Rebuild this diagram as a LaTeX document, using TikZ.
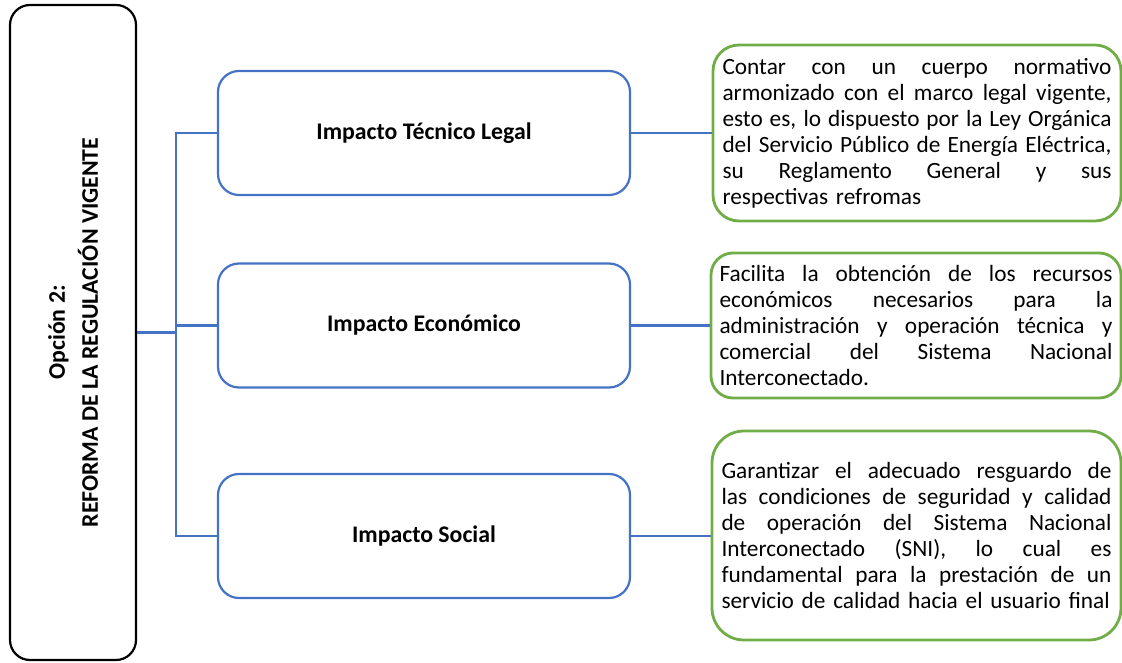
\documentclass[tikz,border=0pt]{standalone}
\usepackage{fontspec}
\setmainfont{Carlito}
\definecolor{blueC}{HTML}{4472C4}
\definecolor{greenC}{HTML}{70AD47}
\newlength\jw
\newcommand{\justline}[1]{\hbox to \jw{\spaceskip=0.22em plus 1fil\relax #1}}
\newcommand{\lastline}[1]{\hbox{#1}}
\begin{document}
\begin{tikzpicture}[x=1pt,y=-1pt,
  lbox/.style={draw=black, line width=2.2pt, rounded corners=20pt, minimum width=126pt, minimum height=655pt, inner sep=0pt},
  bbox/.style={draw=blueC, line width=2.2pt, rounded corners=21pt, minimum width=412pt, minimum height=124pt, inner sep=0pt, font=\fontsize{23.8}{26}\selectfont\bfseries},
  gbox/.style={draw=greenC, line width=2.8pt, align=left, inner xsep=9.5pt, inner ysep=0pt, font=\fontsize{23.3}{26}\selectfont},
  conn/.style={draw=blueC, line width=2.2pt}]
\useasboundingbox (0,0) rectangle (1122,663);
% left box
\node[lbox] (L) at (73,332.5) {};
\node[rotate=90, align=center, inner sep=0pt, font=\fontsize{23.8}{33}\selectfont\bfseries] (Lt) at (L.center) {Opción 2:\\REFORMA DE LA REGULACIÓN VIGENTE};
% blue boxes
\node[bbox] (b1) at (424,133) {Impacto Técnico Legal};
\node[bbox] (b2) at (424,325.5) {Impacto Económico};
\node[bbox] (b3) at (424,536) {Impacto Social};
% green boxes
\node[gbox, text width=389pt, minimum height=176pt, rounded corners=26pt] (g1) at (917,133) {%
\setlength\jw{389pt}%
\justline{Contar con un cuerpo normativo}
\justline{armonizado con el marco legal vigente,}
\justline{esto es, lo dispuesto por la Ley Orgánica}
\justline{del Servicio Público de Energía Eléctrica,}
\justline{su Reglamento General y sus}
\lastline{respectivas refromas}};
\node[gbox, text width=393pt, inner xsep=8.5pt, minimum height=145pt, rounded corners=22pt] (g2) at (916,325.5) {%
\setlength\jw{393pt}%
\justline{Facilita la obtención de los recursos}
\justline{económicos necesarios para la}
\justline{administración y operación técnica y}
\justline{comercial del Sistema Nacional}
\lastline{Interconectado.}};
\node[gbox, text width=390pt, minimum height=209pt, rounded corners=32pt] (g3) at (916.5,535.5) {%
\setlength\jw{390pt}%
\justline{Garantizar el adecuado resguardo de}
\justline{las condiciones de seguridad y calidad}
\justline{de operación del Sistema Nacional}
\justline{Interconectado (SNI), lo cual es}
\justline{fundamental para la prestación de un}
\lastline{servicio de calidad hacia el usuario final}};
% connectors
\coordinate (tr) at (176,0);
\draw[conn] (L.east) -- (L.east -| tr);
\draw[conn] (b1.west) -| (tr |- b3.west) -- (b3.west);
\draw[conn] (b2.west) -- (b2.west -| tr);
\draw[conn] (b1.east) -- (g1.west |- b1.east);
\draw[conn] (b2.east) -- (g2.west |- b2.east);
\draw[conn] (b3.east) -- (g3.west |- b3.east);
\end{tikzpicture}
\end{document}
